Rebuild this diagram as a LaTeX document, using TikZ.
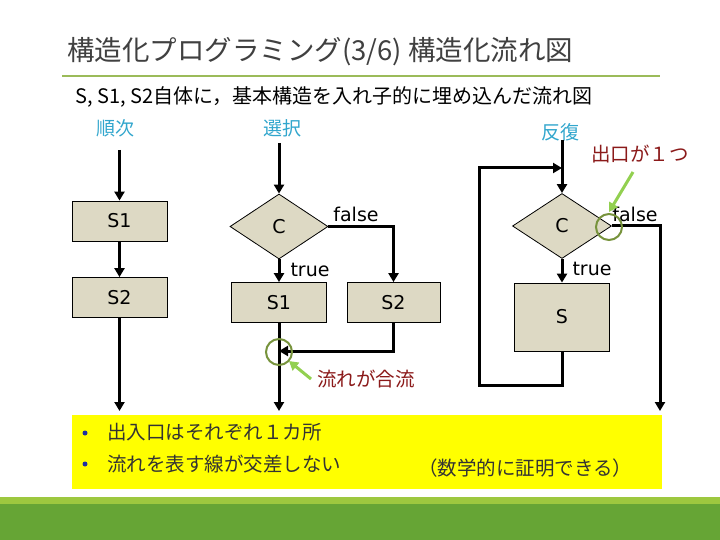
\documentclass[tikz,border=0pt]{standalone}
\usepackage{fontspec}
\setmainfont{DejaVu Sans}
\newfontfamily\jp{Noto Sans CJK JP}
\usetikzlibrary{arrows.meta,shapes.geometric}
\definecolor{boxfill}{HTML}{DDD9C4}
\definecolor{titlegray}{HTML}{404040}
\definecolor{rulegreen}{HTML}{9BBB59}
\definecolor{labelblue}{HTML}{31A6CD}
\definecolor{notered}{HTML}{8B1A1A}
\definecolor{circgreen}{HTML}{77933C}
\definecolor{arrgreen}{HTML}{92D050}
\definecolor{footlight}{HTML}{9DC83F}
\definecolor{footdark}{HTML}{66A535}
\definecolor{bulletblue}{HTML}{2030A0}
\definecolor{hilite}{HTML}{FFFF00}
\tikzset{
  box/.style={draw=black, line width=0.8pt, fill=boxfill, minimum width=95pt, minimum height=40pt, inner sep=0pt, font=\fontsize{19}{20}\selectfont},
  dia/.style={diamond, draw=black, line width=0.8pt, fill=boxfill, minimum width=98pt, minimum height=65pt, inner sep=0pt, font=\fontsize{19}{20}\selectfont},
  flow/.style={line width=3pt, -{Triangle[length=9pt,width=10pt]}},
  plain/.style={line width=3pt},
  lbl/.style={font=\fontsize{19}{20}\selectfont, inner sep=0pt},
  kind/.style={font=\jp\fontsize{19}{20}\selectfont, text=labelblue, inner sep=0pt},
  note/.style={font=\jp\fontsize{19.5}{20}\selectfont, text=notered, inner sep=0pt},
  ring/.style={draw=circgreen, line width=2pt},
  pointer/.style={draw=arrgreen, line width=3pt, -{Triangle[length=9pt,width=10pt]}},
  bul/.style={font=\jp\fontsize{19.5}{21}\selectfont, text=black!80, inner sep=0pt, anchor=west}
}
\begin{document}
\begin{tikzpicture}[x=1pt,y=-1pt]
\useasboundingbox (0,0) rectangle (720,540);
\fill[white] (0,0) rectangle (720,540);
% title
\node[anchor=west, inner sep=0pt, text=titlegray, font=\jp\fontsize{27.5}{30}\selectfont] (title) at (67,52) {構造化プログラミング(3/6) 構造化流れ図};
\draw[rulegreen, line width=2pt] (62,76) -- (660,76);
\node[anchor=west, inner sep=0pt, font=\jp\fontsize{20}{22}\selectfont] (sub) at (75,97) {S, S1, S2自体に，基本構造を入れ子的に埋め込んだ流れ図};
% kind labels
\node[kind] (k1) at (115,128) {順次};
\node[kind] (k2) at (282,128) {選択};
\node[kind] (k3) at (560,132) {反復};
% sequence
\coordinate (qin) at (119.5,150);
\node[box] (qa) at (119.5,221) {S1};
\node[box] (qb) at (119.5,297.5) {S2};
\coordinate (qout) at (119.5,411);
\draw[flow] (qin) -- (qa);
\draw[flow] (qa) -- (qb);
\draw[flow] (qb) -- (qout);
% selection
\coordinate (sin) at (279,143);
\node[dia] (sc) at (279,226.5) {C};
\node[box] (s1) at (279,302.5) {S1};
\node[box, minimum width=93pt] (s2) at (393.5,302.5) {S2};
\coordinate (sj) at (279,351);
\coordinate (sout) at (279,411);
\draw[flow] (sin) -- (sc.north);
\draw[flow] (sc.east) -| (s2.north);
\draw[flow] (sc.south) -- (s1.north);
\draw[flow] (s2.south) |- (sj);
\draw[flow] (s1.south) -- (sout);
\node[lbl] (sf) at (356,214) {false};
\node[lbl] (st) at (310,270) {true};
\draw[ring] (279,352) circle (13);
\coordinate (pa1) at (311,379);
\coordinate (pa2) at (289,361);
\draw[pointer] (pa1) -- (pa2);
\node[note, anchor=west] (n1) at (317,379) {流れが合流};
% iteration
\coordinate (rin) at (562,140);
\coordinate (rj) at (562,168);
\node[dia, minimum width=99pt] (rc) at (562,226) {C};
\node[box, minimum height=68pt] (rs) at (562,317) {S};
\coordinate (rlb) at (479,385);
\coordinate (rout) at (660,411);
\draw[plain] (rin) -- (rj);
\draw[flow] (rj) -- (rc.north);
\draw[flow] (rs.south) |- (rlb) |- (rj);
\draw[flow] (rc.south) -- (rs.north);
\draw[flow] (rc.east) -| (rout);
\node[lbl] (rf) at (635,214) {false};
\node[lbl] (rt) at (592,269) {true};
\draw[ring] (609,227) circle (13);
\coordinate (pb1) at (633,172);
\coordinate (pb2) at (609,212);
\draw[pointer] (pb1) -- (pb2);
\node[note] (n2) at (640,154) {出口が１つ};
% summary box
\fill[hilite] (72,415) rectangle (662,489);
\fill[bulletblue] (85,433) circle (2.5);
\fill[bulletblue] (85,464) circle (2.5);
\node[bul] (b1) at (107,432) {出入口はそれぞれ１カ所};
\node[bul] (b2) at (107,464) {流れを表す線が交差しない};
\node[bul] (b3) at (418,468) {（数学的に証明できる）};
% footer
\fill[footlight] (0,497) rectangle (720,504);
\fill[footdark] (0,504) rectangle (720,540);
\end{tikzpicture}
\end{document}
